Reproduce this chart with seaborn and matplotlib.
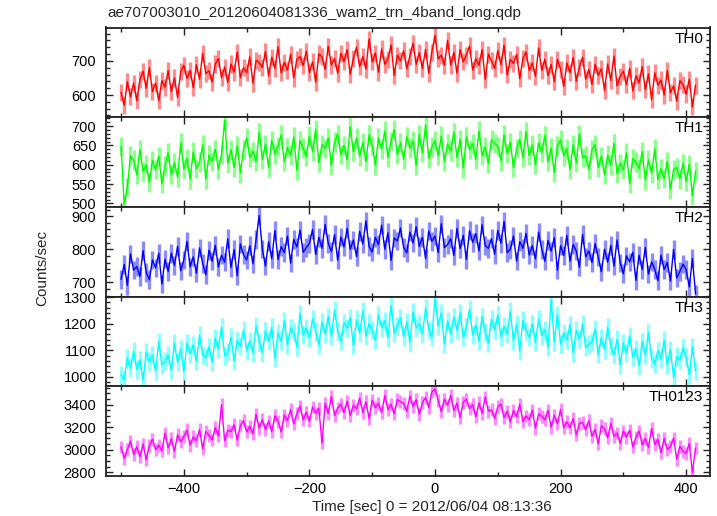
import numpy as np
import pandas as pd
import matplotlib
matplotlib.use("Agg")
import matplotlib.pyplot as plt
from matplotlib.ticker import MultipleLocator
import seaborn as sns

# Time bins: seconds from 2012/06/04 08:13:36, one value every 5 s
time_start = -500
time_step = 5

# Count rates (counts/sec)
th0 = [
    608, 570, 639, 595, 635, 583, 645, 670, 620, 680,
    610, 635, 583, 642, 623, 672, 610, 650, 593, 668,
    687, 649, 672, 622, 689, 646, 722, 663, 671, 638,
    691, 707, 651, 682, 637, 691, 667, 726, 651, 680,
    666, 712, 635, 702, 695, 681, 727, 656, 711, 678,
    742, 665, 696, 673, 720, 650, 705, 713, 686, 729,
    665, 697, 638, 721, 712, 675, 743, 688, 707, 664,
    722, 698, 733, 661, 707, 740, 683, 713, 676, 764,
    697, 723, 667, 735, 690, 705, 747, 657, 717, 700,
    730, 677, 714, 752, 690, 724, 678, 734, 664, 726,
    775, 706, 717, 687, 760, 688, 725, 664, 733, 697,
    717, 744, 673, 707, 687, 733, 646, 720, 700, 678,
    730, 689, 746, 659, 704, 693, 719, 648, 707, 726,
    672, 694, 655, 738, 672, 705, 657, 690, 639, 705,
    676, 625, 694, 665, 710, 641, 682, 711, 646, 675,
    631, 690, 658, 677, 613, 691, 643, 714, 627, 655,
    670, 630, 679, 612, 656, 636, 683, 616, 662, 586,
    665, 629, 644, 600, 672, 607, 627, 582, 642, 630,
    603, 646, 565, 629,
]
th1 = [
    648, 498, 542, 623, 612, 574, 639, 583, 600, 555,
    611, 587, 622, 551, 597, 631, 574, 605, 568, 656,
    589, 617, 563, 633, 590, 607, 651, 563, 625, 609,
    640, 589, 627, 715, 604, 639, 593, 649, 579, 640,
    670, 620, 635, 608, 684, 614, 653, 593, 663, 628,
    648, 677, 608, 644, 625, 672, 586, 662, 643, 621,
    674, 634, 692, 606, 652, 642, 669, 599, 659, 679,
    626, 650, 613, 698, 634, 669, 622, 658, 608, 677,
    649, 599, 669, 641, 687, 619, 661, 691, 627, 657,
    614, 673, 643, 662, 599, 678, 631, 703, 617, 646,
    662, 624, 674, 609, 654, 636, 684, 619, 666, 592,
    672, 639, 655, 613, 687, 624, 646, 603, 665, 655,
    648, 610, 677, 629, 658, 593, 642, 665, 618, 686,
    624, 651, 600, 657, 632, 676, 608, 643, 580, 650,
    664, 623, 641, 588, 652, 605, 679, 618, 623, 588,
    639, 652, 593, 622, 574, 625, 599, 655, 577, 604,
    587, 631, 551, 616, 607, 590, 634, 561, 613, 578,
    641, 562, 590, 564, 608, 536, 588, 593, 563, 604,
    557, 601, 520, 583,
]
th2 = [
    709, 754, 691, 786, 737, 748, 718, 796, 730, 708,
    768, 744, 788, 695, 770, 733, 788, 751, 809, 735,
    768, 824, 747, 777, 728, 804, 757, 723, 797, 764,
    812, 747, 782, 761, 832, 745, 799, 720, 816, 784,
    768, 811, 756, 830, 902, 801, 749, 823, 771, 856,
    769, 808, 790, 840, 758, 830, 807, 858, 791, 805,
    818, 860, 784, 836, 803, 875, 818, 793, 844, 767,
    837, 807, 863, 800, 828, 778, 854, 816, 886, 808,
    792, 836, 814, 873, 800, 850, 766, 834, 825, 864,
    806, 789, 852, 819, 868, 809, 836, 772, 855, 824,
    840, 790, 877, 805, 814, 832, 781, 863, 802, 842,
    769, 856, 821, 847, 795, 874, 811, 803, 832, 785,
    857, 818, 884, 790, 800, 840, 764, 823, 803, 848,
    783, 811, 771, 852, 800, 764, 827, 794, 835, 737,
    811, 781, 842, 764, 814, 795, 746, 845, 777, 795,
    760, 817, 776, 732, 800, 761, 812, 749, 828, 759,
    726, 780, 762, 791, 706, 782, 739, 805, 725, 762,
    739, 705, 782, 739, 760, 704, 800, 713, 733, 755,
    739, 686, 772, 665,
]
th3 = [
    1009, 990, 1072, 1033, 1097, 1028, 1065, 988, 1093, 1058,
    1081, 1023, 1132, 1046, 1059, 1083, 1026, 1127, 1055, 1106,
    1021, 1127, 1088, 1120, 1060, 1157, 1083, 1074, 1113, 1056,
    1146, 1105, 1188, 1079, 1095, 1149, 1059, 1137, 1115, 1176,
    1099, 1136, 1091, 1192, 1133, 1092, 1172, 1134, 1187, 1071,
    1165, 1134, 1211, 1122, 1185, 1168, 1112, 1238, 1158, 1185,
    1146, 1218, 1171, 1121, 1206, 1163, 1227, 1153, 1252, 1171,
    1135, 1204, 1184, 1222, 1120, 1216, 1165, 1248, 1153, 1201,
    1175, 1138, 1233, 1185, 1212, 1148, 1267, 1165, 1192, 1223,
    1151, 1207, 1129, 1245, 1185, 1199, 1162, 1258, 1178, 1150,
    1295, 1191, 1240, 1124, 1211, 1161, 1225, 1176, 1242, 1150,
    1186, 1254, 1159, 1196, 1135, 1227, 1169, 1128, 1217, 1176,
    1234, 1151, 1190, 1162, 1246, 1136, 1199, 1099, 1213, 1172,
    1150, 1200, 1130, 1218, 1155, 1178, 1112, 1290, 1133, 1233,
    1124, 1166, 1140, 1196, 1092, 1175, 1142, 1198, 1111, 1123,
    1132, 1180, 1085, 1147, 1103, 1187, 1116, 1083, 1141, 1046,
    1128, 1089, 1155, 1074, 1106, 1043, 1133, 1083, 1166, 1069,
    1048, 1099, 1069, 1137, 1046, 1103, 998, 1077, 1064, 1108,
    1075, 1009, 1114, 1022,
]
th0123 = [
    3025, 2924, 2999, 3078, 2958, 3027, 2937, 3051, 2910, 3035,
    3094, 3001, 3039, 2991, 3148, 3016, 3098, 2985, 3133, 3070,
    3117, 3176, 3041, 3115, 3080, 3179, 3008, 3163, 3127, 3087,
    3196, 3122, 3400, 3079, 3174, 3160, 3221, 3087, 3212, 3258,
    3159, 3210, 3141, 3316, 3192, 3268, 3179, 3255, 3160, 3301,
    3252, 3159, 3307, 3259, 3356, 3229, 3321, 3388, 3265, 3333,
    3255, 3379, 3324, 3368, 3060, 3412, 3321, 3471, 3305, 3370,
    3404, 3331, 3432, 3304, 3395, 3362, 3458, 3330, 3426, 3278,
    3439, 3375, 3412, 3328, 3480, 3356, 3402, 3319, 3445, 3427,
    3413, 3340, 3476, 3383, 3444, 3316, 3417, 3464, 3375, 3512,
    3540, 3440, 3337, 3449, 3396, 3483, 3346, 3413, 3285, 3422,
    3449, 3365, 3400, 3291, 3416, 3322, 3468, 3343, 3354, 3279,
    3380, 3406, 3286, 3342, 3247, 3348, 3294, 3404, 3250, 3300,
    3266, 3352, 3192, 3318, 3298, 3264, 3350, 3200, 3306, 3231,
    3357, 3195, 3248, 3195, 3278, 3131, 3234, 3242, 3179, 3257,
    3120, 3179, 3053, 3212, 3186, 3106, 3235, 3119, 3148, 3057,
    3166, 3110, 3174, 3024, 3108, 3167, 3046, 3100, 3020, 3189,
    3048, 3091, 2973, 3101, 3004, 3027, 3104, 2917, 3030, 2987,
    2970, 3055, 2800, 3015,
]

# 1-sigma error per bin for each band
errors = [25, 25, 28, 34, 57]

bands = ["TH0", "TH1", "TH2", "TH3", "TH0123"]
series = [th0, th1, th2, th3, th0123]
colors = ["#ff0000", "#00ff00", "#0000ff", "#00ffff", "#ff00ff"]
light_colors = ["#ff8c8c", "#8cff8c", "#8c8cff", "#8cffff", "#ff8cff"]
ylims = [(535, 798), (491, 723), (657, 928), (965, 1302), (2767, 3563)]
ymajor = [100, 50, 100, 100, 200]
yminor = [20, 10, 20, 20, 50]

sns.set_theme(style="ticks")
plt.rcParams["font.family"] = ["Liberation Sans", "DejaVu Sans"]

fig = plt.figure(figsize=(7.17, 5.16), dpi=100)

left, width = 106 / 717, 604 / 717
top, bottom = 1 - 27.5 / 516, 1 - 476 / 516
h = (top - bottom) / len(bands)
edge = "#222222"

axes = []
for i, band in enumerate(bands):
    ax = fig.add_axes([left, top - (i + 1) * h, width, h],
                      sharex=axes[0] if axes else None)
    axes.append(ax)

    rate = np.array(series[i], dtype=float)
    t = time_start + time_step * np.arange(len(rate))
    df = pd.DataFrame({"time": t, "rate": rate})

    # error bars first, light shade
    ax.vlines(df["time"], df["rate"] - errors[i], df["rate"] + errors[i],
              colors=light_colors[i], lw=2.4, zorder=1)
    sns.lineplot(data=df, x="time", y="rate", ax=ax, color=colors[i],
                 lw=1.0, estimator=None, sort=False, zorder=2)

    ax.set_xlim(-524, 438)
    ax.set_ylim(*ylims[i])
    ax.xaxis.set_major_locator(MultipleLocator(200))
    ax.xaxis.set_minor_locator(MultipleLocator(100))
    ax.yaxis.set_major_locator(MultipleLocator(ymajor[i]))
    ax.yaxis.set_minor_locator(MultipleLocator(yminor[i]))
    ax.tick_params(which="both", direction="in", top=True, right=True,
                   color=edge, width=1.0, labelsize=10.5, labelcolor="black")
    ax.tick_params(which="major", length=5, pad=7)
    ax.tick_params(which="minor", length=3)
    ax.tick_params(axis="x", pad=4)
    if i < len(bands) - 1:
        ax.tick_params(labelbottom=False)
    for s in ax.spines.values():
        s.set_color(edge)
        s.set_linewidth(1.3)
    ax.set_xlabel("")
    ax.set_ylabel("")
    ax.text(0.989, 0.955, band, transform=ax.transAxes, ha="right", va="top",
            fontsize=11, color="black")

fig.text(107 / 717, 1 - 13 / 516, "ae707003010_20120604081336_wam2_trn_4band_long.qdp",
         ha="left", va="center", fontsize=11)
fig.text(42 / 717, 1 - 268 / 516, "Counts/sec", rotation=90,
         ha="center", va="center", fontsize=11)
fig.text(432 / 717, 1 - 507 / 516, "Time [sec] 0 = 2012/06/04 08:13:36",
         ha="center", va="center", fontsize=11)

fig.savefig("out.png", dpi=100)
